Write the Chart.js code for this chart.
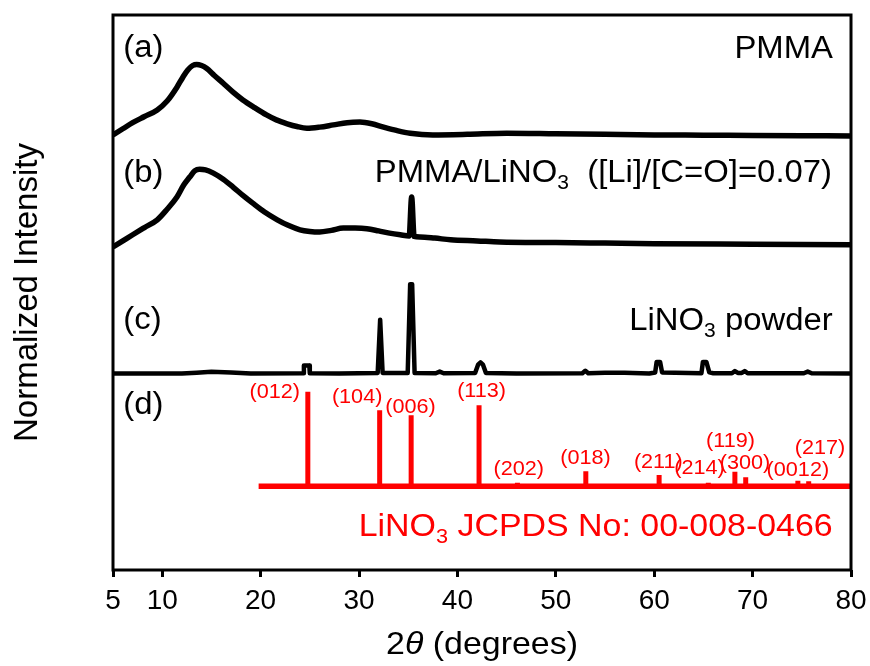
<!DOCTYPE html>
<html>
<head>
<meta charset="utf-8">
<script src="https://cdn.jsdelivr.net/npm/chart.js@4/dist/chart.umd.min.js"></script>
<style>
  html, body { margin: 0; padding: 0; background: #ffffff; }
  #wrap { width: 870px; height: 666px; }
</style>
</head>
<body>
<div id="wrap"><canvas id="xrd" width="870" height="666"></canvas></div>
<script>
// ---- x axis ticks (2θ, degrees) ----
const xTicks = [5, 10, 20, 30, 40, 50, 60, 70, 80];

// ---- (a) PMMA film: 2θ and normalized intensity ----
const pmmaTheta = [5, 6, 7, 8.2, 9.5, 10.5, 11.5, 12.1, 12.6, 13.1, 13.5, 14.0, 14.5, 15.3, 16.2, 17.2, 18.2, 19.4, 20.6, 21.6, 22.7, 23.7, 24.7, 26, 27.4, 28.8, 30.1, 31.3, 32.5, 33.8, 35.2, 37.5, 41, 45, 50, 55, 60, 65, 70, 75, 80];
const pmmaIntensity = [0.4, 1.5, 2.6, 3.7, 4.9, 6.5, 9.0, 10.8, 12.1, 12.9, 13.1, 12.9, 12.4, 11.1, 9.7, 8.1, 6.7, 5.3, 4.0, 3.1, 2.4, 1.9, 1.6, 1.8, 2.2, 2.6, 2.7, 2.4, 1.8, 1.2, 0.7, 0.4, 0.5, 0.7, 0.6, 0.5, 0.4, 0.35, 0.3, 0.25, 0.2];

// ---- (b) PMMA/LiNO3 film ----
const blendTheta = [5, 6, 7, 8.2, 9.5, 10.5, 11.5, 12.2, 12.8, 13.3, 13.8, 14.4, 15.2, 16.2, 17.2, 18.2, 19.2, 20.4, 21.7, 22.8, 24, 25, 26, 27.2, 28.4, 29.6, 30.8, 32, 33.1, 34.2, 35.1, 35.35, 35.6, 36.2, 37.7, 39.3, 42, 44.3, 50, 55, 60, 70, 80];
const blendIntensity = [0.2, 1.3, 2.4, 3.7, 5.1, 7.0, 9.2, 11.4, 12.8, 13.9, 14.2, 14.1, 13.5, 12.4, 11.0, 9.5, 8.1, 6.5, 5.1, 4.1, 3.3, 3.0, 2.9, 3.2, 3.6, 3.6, 3.5, 3.1, 2.7, 2.4, 2.2, 9.2, 2.1, 2.0, 1.8, 1.5, 1.3, 1.1, 1.0, 0.9, 0.8, 0.7, 0.6];

// ---- (c) LiNO3 powder ----
const powderTheta = [5, 8, 12, 13.5, 15, 17, 19, 24.35, 24.4, 24.95, 25.0, 28, 31.9, 32.15, 32.4, 34.95, 35.2, 35.4, 35.65, 37.8, 38.2, 38.6, 41.8, 42.1, 42.35, 42.6, 42.9, 46, 52.7, 53.0, 53.3, 55, 57, 59.5, 60.1, 60.25, 60.6, 60.8, 64.8, 64.95, 65.3, 65.6, 66, 67.9, 68.2, 68.5, 68.9, 69.2, 69.5, 75.2, 75.6, 76, 80];
const powderIntensity = [0.4, 0.4, 0.4, 0.55, 0.7, 0.6, 0.4, 0.45, 1.85, 1.85, 0.45, 0.4, 0.5, 10.1, 0.5, 0.5, 16.5, 16.5, 0.5, 0.45, 0.75, 0.45, 0.5, 2.0, 2.4, 2.0, 0.5, 0.4, 0.45, 0.9, 0.45, 0.55, 0.55, 0.4, 0.6, 2.5, 2.5, 0.6, 0.45, 2.5, 2.5, 0.6, 0.45, 0.45, 0.85, 0.5, 0.5, 0.85, 0.45, 0.45, 0.75, 0.45, 0.4];

// ---- (d) LiNO3 reference pattern, JCPDS 00-008-0466 ----
const refHkl = ['(012)', '(104)', '(006)', '(113)', '(202)', '(018)', '(211)', '(214)', '(119)', '(300)', '(0012)', '(217)'];
const refTheta = [24.8, 32.1, 35.3, 42.2, 46.1, 53.05, 60.5, 65.5, 68.2, 69.3, 74.6, 75.7];
const refIntensity = [17.0, 13.7, 12.8, 14.6, 0.6, 2.7, 2.0, 0.6, 2.6, 1.6, 1.0, 0.9];
const refRange = [19.8, 80];

// vertical stacking of the four patterns (axis units, 0–100)
const offsetA = 78, offsetB = 58, offsetC = 35, offsetD = 15.1;

// where each (hkl) tag sits, in axis coordinates
const hklTagTheta = [21.43, 29.81, 35.24, 42.46, 46.24, 53.02, 60.42, 64.61, 67.76, 69.23, 74.6, 76.85];
const hklTagLevel = [32.07, 31.17, 29.42, 32.13, 18.14, 20.18, 19.51, 18.29, 23.12, 19.33, 18.02, 21.93];

const FONT = '"Liberation Sans", Arial, Helvetica, sans-serif';

function toPoints(theta, inten, off) {
  return theta.map((t, i) => ({ x: t, y: inten[i] + off }));
}
function stickPoints(theta, inten, off) {
  const pts = [];
  theta.forEach((t, i) => {
    pts.push({ x: t, y: off }, { x: t, y: off + inten[i] }, { x: t, y: null });
  });
  return pts;
}

const datasets = [
  { label: 'PMMA', data: toPoints(pmmaTheta, pmmaIntensity, offsetA), borderColor: '#000', borderWidth: 5.5, cubicInterpolationMode: 'monotone' },
  { label: 'PMMA/LiNO3', data: toPoints(blendTheta, blendIntensity, offsetB), borderColor: '#000', borderWidth: 5.5, cubicInterpolationMode: 'monotone' },
  { label: 'LiNO3 powder', data: toPoints(powderTheta, powderIntensity, offsetC), borderColor: '#000', borderWidth: 4.5, tension: 0 },
  { label: 'JCPDS baseline', data: refRange.map(t => ({ x: t, y: offsetD })), borderColor: '#ff0000', borderWidth: 5.5, tension: 0 },
  { label: 'JCPDS lines', data: stickPoints(refTheta, refIntensity, offsetD), borderColor: '#ff0000', borderWidth: 5, tension: 0, spanGaps: false }
];

// text made of plain, italic and subscript runs, slightly widened horizontally
function fontFor(p, size) {
  return (p.italic ? 'italic ' : '') + (p.sub ? size * 0.64 : size) + 'px ' + FONT;
}
function drawRich(ctx, parts, x, y, align, size, color, baseline, stretch) {
  const k = stretch || 1;
  ctx.save();
  ctx.fillStyle = color;
  ctx.textAlign = 'left';
  ctx.textBaseline = baseline || 'alphabetic';
  let total = 0;
  parts.forEach(p => { ctx.font = fontFor(p, size); total += ctx.measureText(p.text).width; });
  total *= k;
  const startX = align === 'right' ? x - total : align === 'center' ? x - total / 2 : x;
  ctx.translate(startX, y);
  ctx.scale(k, 1);
  let cx = 0;
  parts.forEach(p => {
    ctx.font = fontFor(p, size);
    ctx.fillText(p.text, cx, p.sub ? size * 0.22 : 0);
    cx += ctx.measureText(p.text).width;
  });
  ctx.restore();
}

// panel captions: text parts, anchor (2θ, level), alignment, size, colour
const captions = [
  { parts: [{ text: '(a)' }], x: 6.05, y: 92.43, align: 'left', size: 31, color: '#000' },
  { parts: [{ text: '(b)' }], x: 6.05, y: 69.96, align: 'left', size: 31, color: '#000' },
  { parts: [{ text: '(c)' }], x: 6.05, y: 43.4, align: 'left', size: 31, color: '#000' },
  { parts: [{ text: '(d)' }], x: 6.05, y: 28.11, align: 'left', size: 31, color: '#000' },
  { parts: [{ text: 'PMMA' }], x: 78.17, y: 92.34, align: 'right', size: 31, color: '#000' },
  { parts: [{ text: 'PMMA/LiNO' }, { text: '3', sub: true }, { text: '  ([Li]/[C=O]=0.07)' }], x: 78.07, y: 69.96, align: 'right', size: 31, color: '#000' },
  { parts: [{ text: 'LiNO' }, { text: '3', sub: true }, { text: ' powder' }], x: 78.14, y: 43.24, align: 'right', size: 31, color: '#000' },
  { parts: [{ text: 'LiNO' }, { text: '3', sub: true }, { text: ' JCPDS No: 00-008-0466' }], x: 78.14, y: 6.13, align: 'right', size: 32, color: '#ff0000' }
];

const framePlugin = {
  id: 'frame',
  afterDatasetsDraw(chart) {
    const { ctx, chartArea: a } = chart;
    ctx.save();
    ctx.strokeStyle = '#000';
    ctx.lineWidth = 3;
    ctx.strokeRect(a.left, a.top, a.right - a.left, a.bottom - a.top);
    ctx.restore();
  }
};

const textPlugin = {
  id: 'texts',
  afterDraw(chart) {
    const { ctx, chartArea: a } = chart;
    const xs = chart.scales.x, ys = chart.scales.y;
    captions.forEach(c => {
      drawRich(ctx, c.parts, xs.getPixelForValue(c.x), ys.getPixelForValue(c.y), c.align, c.size, c.color, 'alphabetic', 1.06);
    });
    refHkl.forEach((h, i) => {
      drawRich(ctx, [{ text: h }], xs.getPixelForValue(hklTagTheta[i]), ys.getPixelForValue(hklTagLevel[i]), 'center', 21, '#ff0000', 'middle', 1.03);
    });
    // x axis title with italic theta
    drawRich(ctx, [{ text: '2' }, { text: 'θ', italic: true }, { text: ' (degrees)' }], (a.left + a.right) / 2, 645, 'center', 32, '#000', 'middle', 1.06);
  }
};

new Chart(document.getElementById('xrd'), {
  type: 'line',
  data: { datasets },
  options: {
    responsive: false,
    animation: false,
    devicePixelRatio: 1,
    layout: { padding: { top: 15, right: 19, left: 0, bottom: 0 } },
    elements: {
      point: { radius: 0, hoverRadius: 0 },
      line: { borderJoinStyle: 'round', borderCapStyle: 'butt', fill: false }
    },
    plugins: { legend: { display: false }, tooltip: { enabled: false } },
    scales: {
      x: {
        type: 'linear',
        min: 5,
        max: 80,
        afterBuildTicks(s) { s.ticks = xTicks.map(v => ({ value: v })); },
        afterFit(s) { s.height = 96; s.paddingLeft = 0; s.paddingRight = 0; },
        ticks: { font: { family: FONT, size: 28 }, color: '#000', padding: 7, maxRotation: 0, autoSkip: false },
        grid: { drawOnChartArea: false, drawTicks: true, tickLength: 7, tickWidth: 3, tickColor: '#000' },
        border: { display: false }
      },
      y: {
        type: 'linear',
        min: 0,
        max: 100,
        afterFit(s) { s.width = 113; },
        ticks: { display: false },
        grid: { display: false, drawTicks: false },
        border: { display: false },
        title: { display: true, text: 'Normalized Intensity', color: '#000', font: { family: FONT, size: 33 }, padding: { top: 8, bottom: 0 } }
      }
    }
  },
  plugins: [framePlugin, textPlugin]
});
</script>
</body>
</html>
